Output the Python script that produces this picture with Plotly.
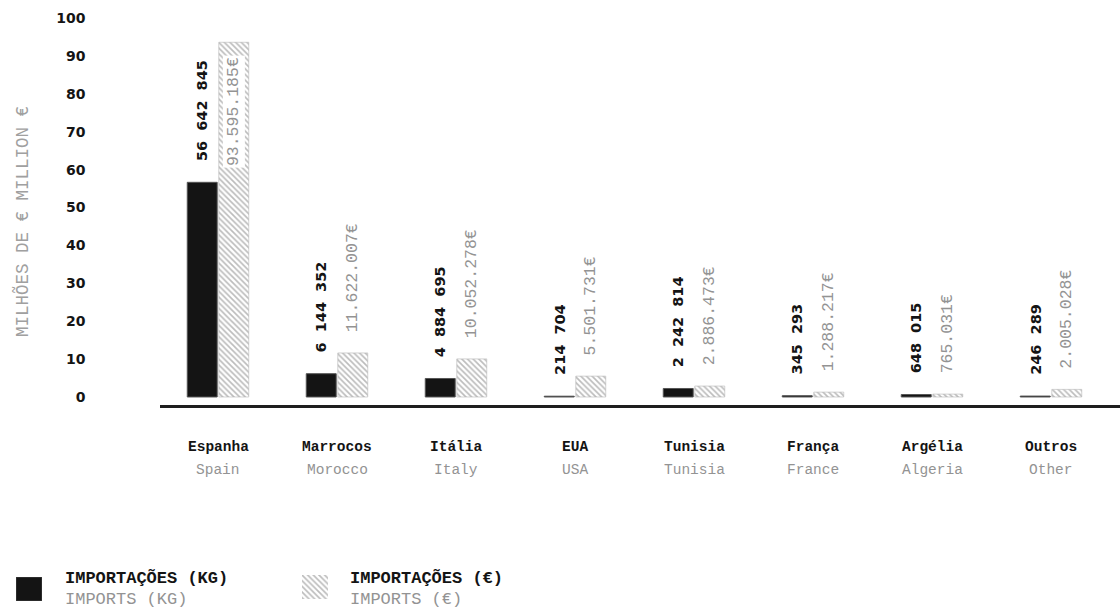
import plotly.graph_objects as go

# Import origins, quantities (kg) and values (€)
countries_pt = ["Espanha", "Marrocos", "Itália", "EUA", "Tunisia", "França", "Argélia", "Outros"]
countries_en = ["Spain", "Morocco", "Italy", "USA", "Tunisia", "France", "Algeria", "Other"]
imports_kg = [56642845, 6144352, 4884695, 214704, 2242814, 345293, 648015, 246289]
imports_eur = [93595185, 11622007, 10052278, 5501731, 2886473, 1288217, 765031, 2005028]
y_ticks = [0, 10, 20, 30, 40, 50, 60, 70, 80, 90, 100]

W, H = 1120, 615
MONO = "Liberation Mono, Courier New, monospace"
SANS = "DejaVu Sans, Verdana, sans-serif"
BLACK = "#141414"
GREY_TXT = "#939393"

# pixel frame of the main plot
Y_MIN, Y_MAX = -4.5, 102
PX0, PX100 = 397.0, 18.0
ppu = (PX0 - PX100) / 100.0
top_px = PX0 - Y_MAX * ppu
bot_px = PX0 - Y_MIN * ppu
x_left, x_right = 158.5, 1110.5


def py(px):
    return 1 - px / H


kg_m = [v / 1e6 for v in imports_kg]
eur_m = [v / 1e6 for v in imports_eur]
kg_txt = [f"{v:,}".replace(",", "\u2007") for v in imports_kg]
eur_txt = [f"{v:,}".replace(",", ".") + "€" for v in imports_eur]

HATCH = dict(shape="\\", fgcolor="#7a7a7a", bgcolor="white", size=4, solidity=0.42)

fig = go.Figure()

fig.add_trace(go.Bar(
    x=countries_pt, y=kg_m, name="IMPORTAÇÕES (KG)",
    marker=dict(color=BLACK, line=dict(color="#555", width=1)),
    showlegend=False, hoverinfo="skip",
))
fig.add_trace(go.Bar(
    x=countries_pt, y=eur_m, name="IMPORTAÇÕES (€)",
    marker=dict(color="white", line=dict(color="#b5b5b5", width=0.6), pattern=HATCH),
    showlegend=False, hoverinfo="skip",
))

# legend swatches on their own small axes
fig.add_trace(go.Bar(
    x=[0], y=[1], width=[1], xaxis="x2", yaxis="y2",
    marker=dict(color=BLACK, line=dict(color="#444", width=1)),
    showlegend=False, hoverinfo="skip",
))
fig.add_trace(go.Bar(
    x=[0], y=[1], width=[1], xaxis="x3", yaxis="y3",
    marker=dict(color="white", line=dict(width=0), pattern=HATCH),
    showlegend=False, hoverinfo="skip",
))

annotations = []
OFF = 15.75
for i, c in enumerate(countries_pt):
    # quantity label above the black bar
    annotations.append(dict(
        x=c, y=kg_m[i], xref="x", yref="y", xshift=-OFF, yshift=19,
        text=kg_txt[i], textangle=-90, showarrow=False,
        xanchor="center", yanchor="bottom",
        font=dict(family=SANS, size=14.5, color=BLACK, weight="bold"),
    ))
    # value label above the hatched bar (tall bars carry it inside)
    ey = eur_m[i] if eur_m[i] < 80 else kg_m[i] - 1.2
    annotations.append(dict(
        x=c, y=ey, xref="x", yref="y", xshift=OFF, yshift=19,
        text=eur_txt[i], textangle=-90, showarrow=False,
        xanchor="center", yanchor="bottom", bgcolor="white",
        font=dict(family=MONO, size=16.5, color=GREY_TXT),
    ))
    # category names
    annotations.append(dict(
        x=c, y=py(447), xref="x", yref="paper", text=f"<b>{c}</b>",
        showarrow=False, xanchor="center", yanchor="middle",
        font=dict(family=MONO, size=14.5, color=BLACK),
    ))
    annotations.append(dict(
        x=c, y=py(470), xref="x", yref="paper", text=countries_en[i],
        showarrow=False, xanchor="center", yanchor="middle",
        font=dict(family=MONO, size=14.5, color=GREY_TXT),
    ))

# axis title
annotations.append(dict(
    x=22 / W, y=py(222), xref="paper", yref="paper",
    text="MILHÕES DE € MILLION €", textangle=-90, showarrow=False,
    xanchor="center", yanchor="middle",
    font=dict(family=MONO, size=17.5, color="#a0a0a0"),
))

# legend text
for x0, t_pt, t_en in [(63, "IMPORTAÇÕES (KG)", "IMPORTS (KG)"),
                       (348, "IMPORTAÇÕES (€)", "IMPORTS (€)")]:
    annotations.append(dict(
        x=x0 / W, y=py(578), xref="paper", yref="paper", text=f"<b>{t_pt}</b>",
        showarrow=False, xanchor="left", yanchor="middle",
        font=dict(family=MONO, size=17, color=BLACK),
    ))
    annotations.append(dict(
        x=x0 / W, y=py(599), xref="paper", yref="paper", text=t_en,
        showarrow=False, xanchor="left", yanchor="middle",
        font=dict(family=MONO, size=17, color=GREY_TXT),
    ))

hidden = dict(visible=False, fixedrange=True)

fig.update_layout(
    width=W, height=H,
    margin=dict(l=0, r=0, t=0, b=0),
    paper_bgcolor="white", plot_bgcolor="white",
    barmode="group", bargap=0.47, bargroupgap=0.05,
    xaxis=dict(domain=[x_left / W, x_right / W], showticklabels=False,
               showgrid=False, zeroline=False, showline=False, ticks=""),
    yaxis=dict(domain=[py(bot_px), py(top_px)], range=[Y_MIN, Y_MAX],
               tickvals=y_ticks, ticktext=[str(v) for v in y_ticks],
               showgrid=False, zeroline=False, showline=False, ticks="",
               ticklabelstandoff=72,
               tickfont=dict(family=SANS, size=14, color=BLACK, weight="bold")),
    xaxis2=dict(domain=[16 / W, 42 / W], range=[-0.5, 0.5], anchor="y2", **hidden),
    yaxis2=dict(domain=[py(601), py(577)], range=[0, 1], anchor="x2", **hidden),
    xaxis3=dict(domain=[302 / W, 328 / W], range=[-0.5, 0.5], anchor="y3", **hidden),
    yaxis3=dict(domain=[py(599), py(575)], range=[0, 1], anchor="x3", **hidden),
    annotations=annotations,
    shapes=[dict(type="line", xref="paper", yref="paper",
                 x0=160 / W, x1=1.0, y0=py(406.5), y1=py(406.5),
                 line=dict(color="#1e1e1e", width=3))],
    showlegend=False,
)

fig.write_html("out.html")
